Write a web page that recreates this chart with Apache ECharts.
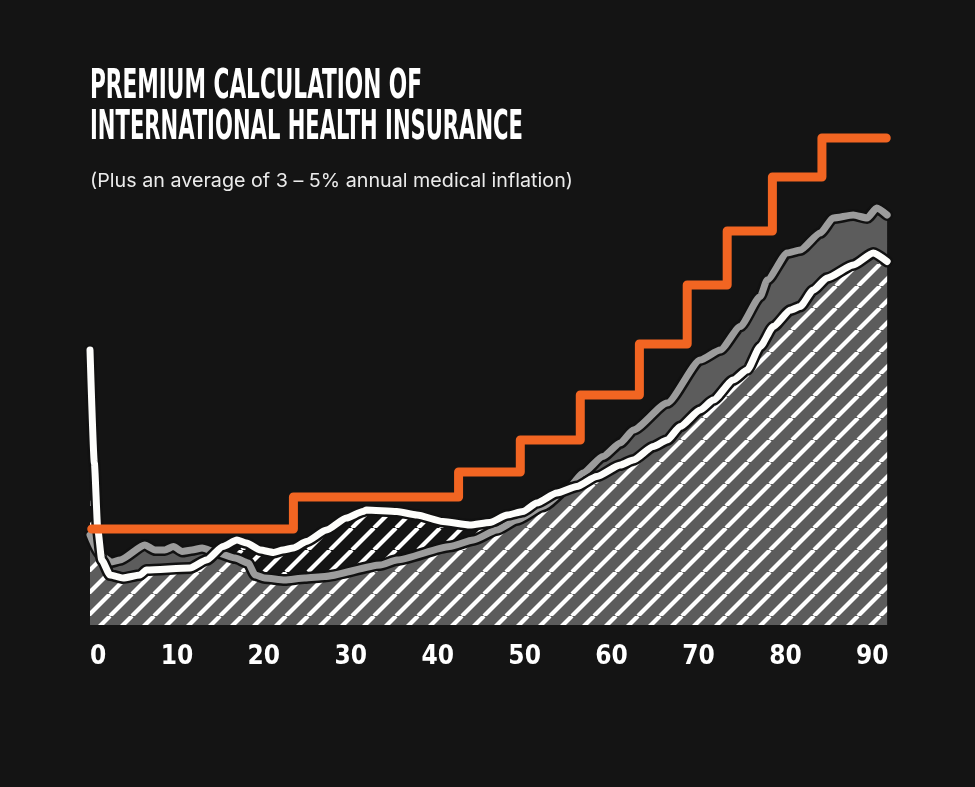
<!DOCTYPE html>
<html>
<head>
<meta charset="utf-8">
<title>Premium calculation of international health insurance</title>
<script src="https://cdn.jsdelivr.net/npm/echarts@6/dist/echarts.min.js"></script>
<style>
  html, body { margin: 0; padding: 0; background: #141414; }
  #chart { width: 975px; height: 787px; }
</style>
</head>
<body>
<div id="chart"></div>
<script>
// age ticks on the x axis
var xTicks = [0, 10, 20, 30, 40, 50, 60, 70, 80, 90];

// orange step line: age where each premium band starts, and its level
var bandAges = [0.2, 23.4, 42.4, 49.5, 56.4, 63.2, 68.7, 73.3, 78.5, 84.2, 91.6];
var bandLevels = [19.2, 25.6, 30.6, 37, 46, 56.2, 68, 78.8, 89.6, 97.4, 97.4];

// grey curve (solid grey area)
var greyAges = [0, 1.15, 2.5, 3.45, 6.3, 7.5, 8.6, 9.6, 10.6, 11.7, 12.9, 14.7, 16.7, 18.2, 19, 20.1,
  22.4, 24.7, 27, 33.4, 35.3, 41.4, 44.1, 46.8, 49.1, 52.1, 55.2, 56.7, 59, 61, 62.5, 66.4, 70.2,
  72.5, 74.8, 77.1, 77.9, 80.2, 81.7, 84, 85.5, 87.8, 89.4, 90.5, 91.7];
var greyCost = [18, 14, 12.6, 13, 16, 15, 15, 15.7, 14.7, 15, 15.4, 14.4, 13.4, 12.4, 10, 9.4,
  9, 9.4, 9.7, 12, 13, 15.7, 17, 19, 21, 23.7, 27.7, 30.4, 33.7, 36.4, 39, 44.4, 53,
  55, 59.7, 65.7, 69, 74.4, 75, 78.4, 81.4, 82, 81.4, 83.4, 82];

// white curve (hatched area)
var whiteAges = [0, 0.5, 0.9, 1.35, 2.3, 3.8, 5.75, 6.5, 11.5, 13.4, 15.3, 16.9, 18, 19.6, 21.1,
  22.2, 23.4, 24.9, 27.2, 29.5, 31.4, 31.8, 35.3, 37.6, 40.6, 43.7, 46, 48, 49.8, 51.4, 53.7, 56,
  58.3, 61, 62.5, 64.8, 66.4, 67.9, 70.2, 71.7, 74, 75.6, 77.1, 78.6, 80.6, 81.7, 83.2, 84.8,
  87.8, 90.1, 91.7];
var whiteCost = [55, 32.4, 19, 13, 10, 9.4, 10, 11, 11.4, 13, 15.7, 17, 16.4, 15, 14.5,
  15, 15.4, 16.7, 19, 21.4, 22.7, 23, 22.7, 22, 20.7, 20, 20.5, 22, 22.7, 24.4, 26.4, 27.7,
  29.7, 32, 33, 35.7, 37, 39.7, 43, 45, 49, 51, 55.7, 59.7, 63, 63.7, 67, 69.4,
  72, 74.4, 72.7];

var titleLines = ['PREMIUM CALCULATION OF', 'INTERNATIONAL HEALTH INSURANCE'];
var subtitle = '(Plus an average of 3 \u2013 5% annual medical inflation)';

var condensed = '"Liberation Sans Narrow", "DejaVu Sans Condensed", sans-serif';
var plain = 'Inter, "Noto Sans", sans-serif';

function zip(xs, ys) {
    var out = [];
    for (var i = 0; i < xs.length; i++) {
        out.push([xs[i], ys[i]]);
    }
    return out;
}

// diagonal stripe tile for the hatched area
function stripeTile() {
    var s = 22;
    var c = document.createElement('canvas');
    c.width = s;
    c.height = s;
    var ctx = c.getContext('2d');
    ctx.strokeStyle = '#ffffff';
    ctx.lineWidth = 4.2;
    for (var k = -1; k <= 1; k++) {
        ctx.beginPath();
        ctx.moveTo(k * s, s);
        ctx.lineTo(k * s + s, 0);
        ctx.stroke();
    }
    return c;
}

// squeeze text horizontally to the width it has in the original
var measure = document.createElement('canvas').getContext('2d');
function squeeze(text, font, width) {
    measure.font = font;
    return width / measure.measureText(text).width;
}

var chart = echarts.init(document.getElementById('chart'));

function curve(name, xs, ys, color, width, z) {
    return {
        name: name,
        type: 'line',
        data: zip(xs, ys),
        showSymbol: false,
        smooth: 0.2,
        smoothMonotone: 'x',
        lineStyle: { color: color, width: width, cap: 'round', join: 'round' },
        z: z
    };
}

var option = {
    backgroundColor: '#141414',
    animation: false,
    graphic: [{
        type: 'text',
        x: 90,
        y: 88,
        scaleX: squeeze(titleLines[0], 'bold 40px ' + condensed, 332),
        style: {
            text: titleLines[0],
            fill: '#ffffff',
            fontSize: 40,
            fontWeight: 'bold',
            fontFamily: condensed,
            verticalAlign: 'middle'
        }
    }, {
        type: 'text',
        x: 90,
        y: 129,
        scaleX: squeeze(titleLines[1], 'bold 40px ' + condensed, 433),
        style: {
            text: titleLines[1],
            fill: '#ffffff',
            fontSize: 40,
            fontWeight: 'bold',
            fontFamily: condensed,
            verticalAlign: 'middle'
        }
    }, {
        type: 'text',
        x: 90,
        y: 181,
        scaleX: squeeze(subtitle, '19px ' + plain, 483),
        style: {
            text: subtitle,
            fill: '#ececec',
            fontSize: 19,
            fontFamily: plain,
            verticalAlign: 'middle'
        }
    }],
    grid: {
        left: 90,
        right: 87,
        top: 125,
        bottom: 162
    },
    xAxis: {
        type: 'value',
        min: 0,
        max: 91.8,
        interval: 10,
        axisLine: { show: false },
        axisTick: { show: false },
        splitLine: { show: false },
        axisLabel: {
            color: '#ffffff',
            fontSize: 26,
            fontWeight: 'bold',
            fontFamily: condensed,
            margin: 19,
            alignMinLabel: 'left',
            showMaxLabel: false,
            formatter: function (v) {
                return xTicks.indexOf(v) >= 0 ? String(v) : '';
            }
        }
    },
    yAxis: {
        type: 'value',
        min: 0,
        max: 100,
        show: false
    },
    series: [{
        name: 'grey area',
        type: 'line',
        data: zip(greyAges, greyCost),
        showSymbol: false,
        smooth: 0.2,
        smoothMonotone: 'x',
        lineStyle: { width: 0 },
        areaStyle: { color: '#5c5c5c', opacity: 1 },
        z: 1
    }, {
        name: 'white area',
        type: 'line',
        data: zip(whiteAges, whiteCost),
        showSymbol: false,
        smooth: 0.2,
        smoothMonotone: 'x',
        lineStyle: { width: 0 },
        areaStyle: {
            color: { image: stripeTile(), repeat: 'repeat' },
            opacity: 1
        },
        z: 2
    },
    curve('grey outline', greyAges, greyCost, '#111111', 12, 3),
    curve('grey line', greyAges, greyCost, '#9c9c9c', 7, 4),
    curve('white outline', whiteAges, whiteCost, '#111111', 12, 5),
    curve('white line', whiteAges, whiteCost, '#fdfdfb', 7, 6),
    {
        name: 'premium bands',
        type: 'line',
        step: 'end',
        data: zip(bandAges, bandLevels),
        showSymbol: false,
        lineStyle: { color: '#f26522', width: 9, cap: 'round', join: 'round' },
        z: 7
    }]
};

chart.setOption(option);
</script>
</body>
</html>
